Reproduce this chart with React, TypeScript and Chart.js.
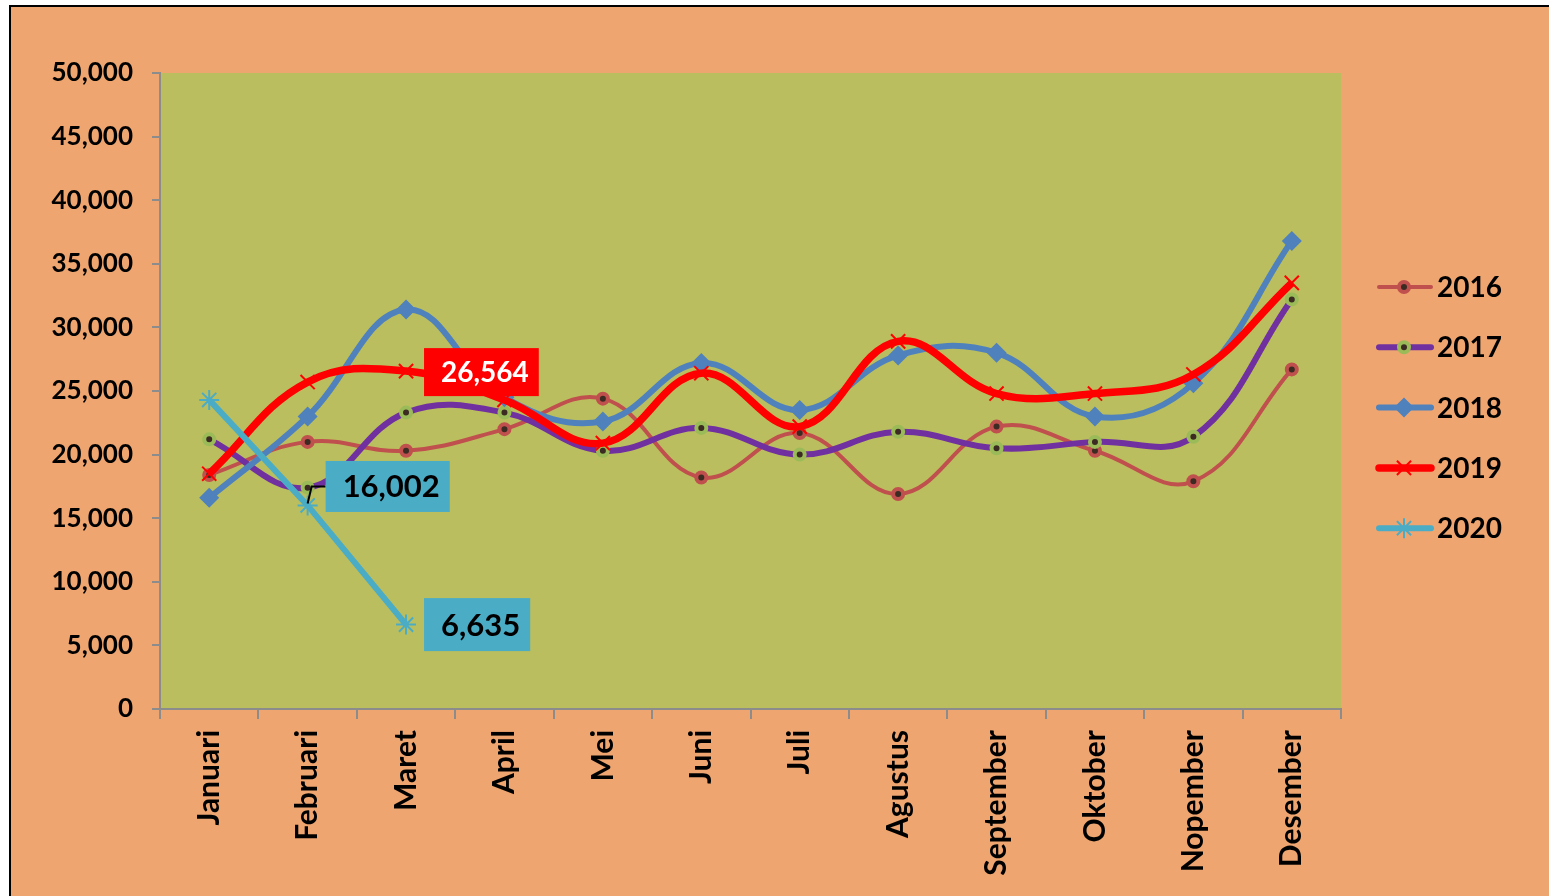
import React, { useEffect, useRef } from 'react';
import { Chart, registerables } from 'chart.js';
import { drawPoint } from 'chart.js/helpers';

Chart.register(...registerables);

const months = ['Januari', 'Februari', 'Maret', 'April', 'Mei', 'Juni', 'Juli', 'Agustus', 'September', 'Oktober', 'Nopember', 'Desember'];
const years = ['2016', '2017', '2018', '2019', '2020'];
const v2016 = [18400, 21000, 20300, 22000, 24400, 18200, 21700, 16900, 22200, 20300, 17900, 26700];
const v2017 = [21200, 17400, 23300, 23300, 20300, 22100, 20000, 21800, 20500, 21000, 21400, 32200];
const v2018 = [16600, 23000, 31400, 24500, 22600, 27200, 23500, 27800, 28000, 23000, 25600, 36800];
const v2019 = [18500, 25700, 26564, 24300, 20900, 26400, 22200, 28900, 24800, 24800, 26300, 33500];
const v2020 = [24300, 16002, 6635, null, null, null, null, null, null, null, null, null];
const yTicks = [0, 5000, 10000, 15000, 20000, 25000, 30000, 35000, 40000, 45000, 50000];

const FONT = 'Lato';
const OUTER_BG = '#EFA56F';
const PLOT_BG = '#BABE5E';
const AXIS_GRAY = '#8C8C8C';
const DOT = '#3B2B22';

const styles = [
  { line: '#C0504D', lw: 4, ps: 'circle', r: 5, pbw: 4, pbg: DOT, pbc: '#C0504D', tension: 0.4 },
  { line: '#7030A0', lw: 6, ps: 'circle', r: 5, pbw: 4, pbg: DOT, pbc: '#9BBB59', tension: 0.4 },
  { line: '#4F81BD', lw: 6, ps: 'rectRot', r: 10, pbw: 0, pbg: '#4F81BD', pbc: '#4F81BD', tension: 0.4 },
  { line: '#FF0000', lw: 7.5, ps: 'crossRot', r: 10, pbw: 2, pbg: '#FF0000', pbc: '#FF0000', tension: 0.4 },
  { line: '#4BACC6', lw: 6, ps: 'star', r: 10, pbw: 2, pbg: '#4BACC6', pbc: '#4BACC6', tension: 0 },
];
const seriesValues = [v2016, v2017, v2018, v2019, v2020];

const dataLabels = [
  { ds: 3, idx: 2, bg: '#FF0000', color: '#FFFFFF', dy: 1, leader: false, size: 28, bh: 48 },
  { ds: 4, idx: 1, bg: '#4BACC6', color: '#000000', dy: -19, leader: true, size: 31, bh: 51 },
  { ds: 4, idx: 2, bg: '#4BACC6', color: '#000000', dy: 0, leader: false, size: 31, bh: 53 },
];

const fmt = (v: number) => v.toLocaleString('en-US');

const bgPlugin = {
  id: 'plotBg',
  beforeDraw(chart: any) {
    const { ctx, chartArea } = chart;
    ctx.save();
    ctx.fillStyle = PLOT_BG;
    ctx.fillRect(chartArea.left, chartArea.top, chartArea.right - chartArea.left, chartArea.bottom - chartArea.top);
    ctx.restore();
  },
};

const labelPlugin = {
  id: 'dataLabelsBoxes',
  afterDatasetsDraw(chart: any) {
    const ctx = chart.ctx;
    ctx.save();
    ctx.textBaseline = 'middle';
    ctx.textAlign = 'left';
    dataLabels.forEach((l) => {
      ctx.font = `bold ${l.size}px ${FONT}`;
      const pt = chart.getDatasetMeta(l.ds).data[l.idx];
      const value = seriesValues[l.ds][l.idx] as number;
      const text = fmt(value);
      const tw = ctx.measureText(text).width;
      const bx = pt.x + 18;
      const cy = pt.y + l.dy;
      const bh = l.bh;
      const bw = tw + 27;
      if (l.leader) {
        ctx.strokeStyle = '#000';
        ctx.lineWidth = 2;
        ctx.beginPath();
        ctx.moveTo(pt.x, pt.y - 2);
        ctx.lineTo(pt.x + 4, cy);
        ctx.lineTo(bx, cy);
        ctx.stroke();
      }
      ctx.fillStyle = l.bg;
      ctx.fillRect(bx, cy - bh / 2, bw, bh);
      ctx.fillStyle = l.color;
      ctx.fillText(text, bx + 17, cy + 1);
    });
    ctx.restore();
  },
};

const legendPlugin = {
  id: 'sideLegend',
  afterDraw(chart: any) {
    const ctx = chart.ctx;
    ctx.save();
    years.forEach((y, i) => {
      const s = styles[i];
      const cy = 287 + i * 60.3;
      ctx.strokeStyle = s.line;
      ctx.lineWidth = s.lw;
      ctx.lineCap = 'round';
      ctx.beginPath();
      ctx.moveTo(1379, cy);
      ctx.lineTo(1431, cy);
      ctx.stroke();
      ctx.lineCap = 'butt';
      ctx.fillStyle = s.pbg;
      ctx.strokeStyle = s.pbc;
      ctx.lineWidth = s.pbw;
      drawPoint(ctx, { pointStyle: s.ps as any, radius: s.r, rotation: 0, borderWidth: s.pbw }, 1404, cy);
      ctx.fillStyle = '#000';
      ctx.font = `bold 28px ${FONT}`;
      ctx.textBaseline = 'middle';
      ctx.textAlign = 'left';
      ctx.fillText(y, 1437, cy + 1);
    });
    ctx.restore();
  },
};

export default function App() {
  const ref = useRef<HTMLCanvasElement>(null);
  useEffect(() => {
    if (!ref.current) return;
    const chart = new Chart(ref.current, {
      type: 'line',
      data: {
        labels: months,
        datasets: years.map((y, i) => {
          const s = styles[i];
          return {
            label: y,
            data: seriesValues[i],
            borderColor: s.line,
            backgroundColor: s.line,
            borderWidth: s.lw,
            tension: s.tension,
            pointStyle: s.ps as any,
            pointRadius: s.r,
            pointBorderWidth: s.pbw,
            pointBackgroundColor: s.pbg,
            pointBorderColor: s.pbc,
            fill: false,
            spanGaps: false,
            order: 4 - i,
          };
        }),
      },
      options: {
        animation: false,
        responsive: false,
        events: [],
        layout: { padding: { left: 0, top: 73, right: 208, bottom: 0 } },
        plugins: { legend: { display: false }, tooltip: { enabled: false } },
        scales: {
          x: {
            type: 'category',
            offset: true,
            grid: { offset: true, drawOnChartArea: false, drawTicks: true, tickLength: 10, color: AXIS_GRAY, lineWidth: 2 },
            border: { color: AXIS_GRAY, width: 2 },
            ticks: {
              color: '#000',
              font: { family: FONT, size: 30, weight: 'bold' },
              maxRotation: 90,
              minRotation: 90,
              padding: 11,
              autoSkip: false,
            },
            afterFit(scale: any) {
              scale.height = 187;
            },
          },
          y: {
            min: 0,
            max: 50000,
            afterBuildTicks(scale: any) {
              scale.ticks = yTicks.map((v) => ({ value: v }));
            },
            grid: { drawOnChartArea: false, drawTicks: true, tickLength: 8, color: AXIS_GRAY, lineWidth: 2 },
            border: { color: AXIS_GRAY, width: 2 },
            ticks: {
              color: '#000',
              font: { family: FONT, size: 26, weight: 'bold' },
              padding: 19,
              callback: (v: any) => fmt(Number(v)),
            },
            afterFit(scale: any) {
              scale.width = 160;
            },
          },
        },
      },
      plugins: [bgPlugin, labelPlugin, legendPlugin],
    });
    return () => chart.destroy();
  }, []);

  return (
    <div style={{ position: 'fixed', left: 0, top: 0, width: 1549, height: 896, overflow: 'hidden', background: '#FFFFFF' }}>
      <div
        style={{
          position: 'absolute',
          left: 9,
          top: 5,
          width: 1700,
          height: 1000,
          background: OUTER_BG,
          borderTop: '2px solid #000',
          borderLeft: '2px solid #000',
        }}
      />
      <canvas ref={ref} width={1549} height={896} style={{ position: 'absolute', left: 0, top: 0, width: 1549, height: 896 }} />
    </div>
  );
}
